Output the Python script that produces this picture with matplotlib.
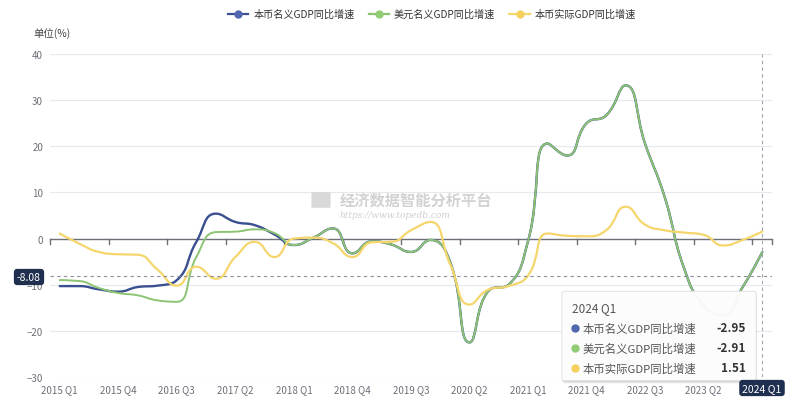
import matplotlib
matplotlib.use("Agg")
import matplotlib.pyplot as plt
import numpy as np
from matplotlib.path import Path
from matplotlib.patches import PathPatch, FancyBboxPatch
from matplotlib.lines import Line2D

plt.rcParams['font.family'] = ['Noto Sans CJK SC', 'DejaVu Sans']

# quarters 2015 Q1 .. 2024 Q1
quarters = [f"{y} Q{q}" for y in range(2015, 2025) for q in range(1, 5)][:37]

local_nominal = [-10.3, -10.3, -11.0, -11.5, -10.5, -10.2, -9.0, -0.7, 5.4, 3.6,
                 2.9, 0.9, -1.4, 0.2, 2.2, -3.2, -0.6, -1.3, -2.9, -0.3,
                 -5.0, -22.5, -11.2, -10.0, -0.5, 20.6, 18.0, 25.0, 26.7, 33.2,
                 20.5, 9.0, -6.5, -14.5, -16.5, -10.5, -2.95]
usd_nominal = [-9.0, -9.2, -10.7, -11.8, -12.3, -13.4, -13.7, -4.0, 1.4, 1.5,
               2.0, 1.2, -1.4, 0.2, 2.2, -3.2, -0.6, -1.3, -2.9, -0.3,
               -5.0, -22.5, -11.2, -10.0, -0.5, 20.6, 18.0, 25.0, 26.7, 33.2,
               20.5, 9.0, -6.5, -14.5, -16.5, -10.5, -2.91]
local_real = [1.1, -1.1, -2.9, -3.4, -3.5, -6.7, -10.2, -6.1, -8.7, -4.0,
              -0.7, -4.0, 0.0, 0.2, -1.0, -4.0, -0.8, -0.7, 1.8, 3.6,
              -5.5, -14.3, -11.0, -10.3, -8.0, 1.1, 0.6, 0.5, 1.8, 6.9,
              3.0, 1.8, 1.3, 0.8, -1.5, -0.3, 1.51]

names = ["本币名义GDP同比增速", "美元名义GDP同比增速", "本币实际GDP同比增速"]
colors = ["#3a4f8f", "#8cc474", "#f5d66c"]
dot_colors = ["#5066ad", "#91cc75", "#f7cf5c"]

W, H = 800, 414
X0, X1, Y0, Y1 = 50, 772, 55, 378
SX = (X1 - X0) / 37.0
SY = (Y1 - Y0) / 70.0


def fx(x, y):
    return x / W, 1 - y / H


def clamp(v, a, b):
    return max(min(v, max(a, b)), min(a, b))


def smooth_path(xs, ys, s=0.5):
    """echarts-style smoothed bezier path (with control point clamping)."""
    px = np.asarray(xs, float) * SX
    py = np.asarray(ys, float) * SY
    n = len(px)
    cin = [None] * n
    cout = [None] * n
    cout[0] = (px[0], py[0])
    cin[-1] = (px[-1], py[-1])
    for j in range(1, n - 1):
        x, y = px[j], py[j]
        ax_, ay_ = px[j - 1], py[j - 1]
        bx, by = px[j + 1], py[j + 1]
        vx, vy = bx - ax_, by - ay_
        l0 = np.hypot(x - ax_, y - ay_)
        l1 = np.hypot(bx - x, by - y)
        r = l1 / (l0 + l1)
        ncx = clamp(x + vx * s * r, x, bx)
        ncy = clamp(y + vy * s * r, y, by)
        vx, vy = ncx - x, ncy - y
        cx = clamp(x - vx * l0 / l1, ax_, x)
        cy = clamp(y - vy * l0 / l1, ay_, y)
        vx, vy = x - cx, y - cy
        ncx = x + vx * l1 / l0
        ncy = y + vy * l1 / l0
        cin[j] = (cx, cy)
        cout[j] = (ncx, ncy)
    verts = [(px[0], py[0])]
    codes = [Path.MOVETO]
    for j in range(1, n):
        verts += [cout[j - 1], cin[j], (px[j], py[j])]
        codes += [Path.CURVE4] * 3
    verts = [(a / SX, b / SY) for a, b in verts]
    return Path(verts, codes)


fig = plt.figure(figsize=(W / 100, H / 100), dpi=100)
ax = fig.add_axes([X0 / W, 1 - Y1 / H, (X1 - X0) / W, (Y1 - Y0) / H])
ax.set_xlim(-0.5, 36.5)
ax.set_ylim(-30, 40)

for v in range(-30, 41, 10):
    if v != 0:
        ax.axhline(v, color="#e6e9f0", lw=0.8, zorder=0)

# watermark
fig.patches.append(FancyBboxPatch(fx(313, 208), 16 / W, 14 / H,
                                  boxstyle="round,pad=0.002", transform=fig.transFigure,
                                  fc="#d9d9d9", ec="none", zorder=0.5))
fig.text(*fx(416, 201), "经济数据智能分析平台", fontsize=11, fontweight="bold",
         color="#d2d2d2", ha="center", va="center", zorder=0.5)
fig.text(*fx(395, 216), "https://www.topedb.com", fontsize=6.5, style="italic",
         family="DejaVu Serif", color="#cfcfcf", ha="center", va="center", zorder=0.5)

# zero axis line with ticks
ax.axhline(0, color="#6e7079", lw=1.0, zorder=2)
for t in list(np.arange(-0.5, 36, 3)) + [36.5]:
    ax.plot([t, t], [0, -5 / SY], color="#6e7079", lw=1.0, zorder=2, clip_on=False)

x = np.arange(len(quarters))
series = [local_nominal, usd_nominal, local_real]
widths = [1.7, 1.4, 1.6]
for vals, c, lw in zip(series, colors, widths):
    ax.add_patch(PathPatch(smooth_path(x, vals), fill=False, ec=c, lw=lw,
                           zorder=3, capstyle="round", joinstyle="round"))

# axis pointers
ax.axhline(-8.08, color="#8a8f99", lw=0.8, ls=(0, (3, 3)), zorder=4)
ax.axvline(36, color="#a0a4ab", lw=0.8, ls=(0, (3, 3)), zorder=4)

ax.set_xticks(x[::3])
ax.set_xticklabels(quarters[::3])
ax.set_yticks(range(-30, 41, 10))
ax.tick_params(axis="both", length=0, labelsize=7, colors="#6e7079")
ax.tick_params(axis="x", pad=5)
ax.tick_params(axis="y", pad=5)
for sp in ax.spines.values():
    sp.set_visible(False)

fig.text(*fx(33, 34), "单位(%)", fontsize=7.5, color="#464646", ha="left", va="center")

handles = [Line2D([0], [0], color=c, lw=1.6, marker="o", ms=5, mfc=d, mec=d)
           for c, d in zip(colors, dot_colors)]
fig.legend(handles, names, loc="center", bbox_to_anchor=fx(432, 15), ncol=3,
           frameon=False, fontsize=7.3, handlelength=2.0, handletextpad=0.5,
           columnspacing=1.4, labelcolor="#333333")

# y-axis pointer label
fig.text(*fx(29, 278), "-8.08", fontsize=7.5, color="white", ha="center", va="center",
         bbox=dict(boxstyle="round,pad=0.3", fc="#1f2f4f", ec="none"), zorder=10)
# x-axis pointer label
fig.text(*fx(762, 389), "2024 Q1", fontsize=7.5, color="white", ha="center", va="center",
         bbox=dict(boxstyle="round,pad=0.3", fc="#1f2f4f", ec="none"), zorder=10)

# tooltip (with a soft shadow)
for off, a in [(3, 0.05), (2, 0.07), (1, 0.08)]:
    fig.patches.append(FancyBboxPatch(fx(565 + off * 0.3, 380 + off), 188 / W, 86 / H,
                                      boxstyle="round,pad=0.004", transform=fig.transFigure,
                                      fc="black", ec="none", alpha=a, zorder=7.5))
tip = FancyBboxPatch(fx(565, 380), 188 / W, 86 / H, boxstyle="round,pad=0.004",
                     transform=fig.transFigure, fc="white", ec="#e3e3e3", lw=0.8,
                     alpha=0.95, zorder=8)
fig.patches.append(tip)
fig.text(*fx(572, 309), quarters[-1], fontsize=8.5, color="#555555",
         ha="left", va="center", zorder=9)
for k, (nm, vals, d) in enumerate(zip(names, series, dot_colors)):
    yy = 329 + k * 20
    fig.text(*fx(583, yy), nm, fontsize=8.2, color="#555555", ha="left", va="center", zorder=9)
    fig.text(*fx(746, yy), f"{vals[-1]:.2f}", fontsize=8.5, color="#333333",
             fontweight="bold", ha="right", va="center", zorder=9)
    fig.lines.append(Line2D([575 / W], [1 - yy / H], marker="o", ms=5, color=d,
                            transform=fig.transFigure, zorder=9))

fig.savefig("out.png", dpi=100)
